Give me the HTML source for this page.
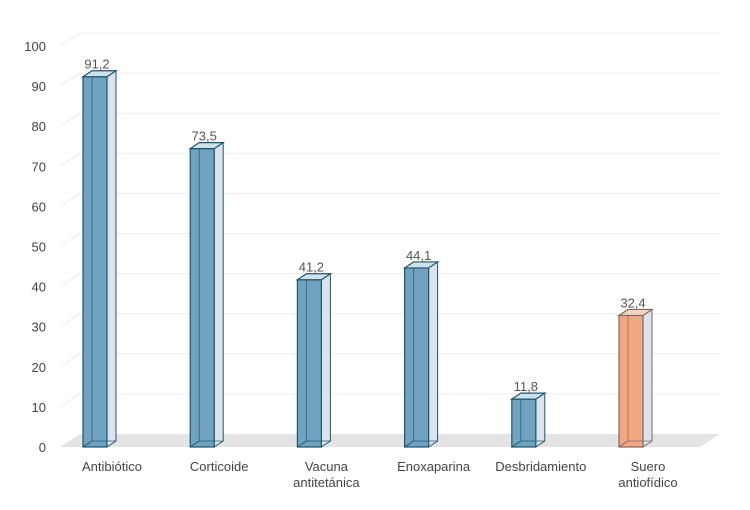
<!DOCTYPE html>
<html><head><meta charset="utf-8"><style>
body{margin:0;background:#fff;}
svg{display:block;font-family:"Liberation Sans",sans-serif;}
</style></head><body>
<svg id="chart" width="750" height="510" viewBox="0 0 750 510"></svg>
<script>
const categories = [["Antibiótico"],["Corticoide"],["Vacuna","antitetánica"],["Enoxaparina"],["Desbridamiento"],["Suero","antiofídico"]];
const values = [91.2, 73.5, 41.2, 44.1, 11.8, 32.4];
const valueLabels = ["91,2","73,5","41,2","44,1","11,8","32,4"];
const highlight = [false,false,false,false,false,true];
const ticks = [0,10,20,30,40,50,60,70,80,90,100];

const NS="http://www.w3.org/2000/svg";
const svg=document.getElementById('chart');
const y0=447, yTop=46, ymax=100;
const y=v=>y0-(v/ymax)*(y0-yTop);
const yb=v=>y0-(v/ymax)*(y0-41);
const x=i=>83+i*107.2;
const DX=20, DY=-13, bw=24, dx=9, dy=-6;
function el(t,a,p){const e=document.createElementNS(NS,t);for(const k in a)e.setAttribute(k,a[k]);(p||svg).appendChild(e);return e;}

const grid=el('g',{});


const floor=el('polygon',{points:`60,${y0} 700,${y0} 720,${y0+DY} 80,${y0+DY}`,fill:'#e4e4e4'},grid);


ticks.forEach(t=>{
  const yy=y(t);
  if(t>0){
    el('line',{x1:60,y1:yy,x2:60+DX,y2:yy+DY,stroke:'#ececec'},grid);
    el('line',{x1:60+DX,y1:yy+DY,x2:720,y2:yy+DY,stroke:'#ececec'},grid);
  }
  const tx=el('text',{x:46,y:yy+5,'text-anchor':'end','font-size':13,fill:'#444'});
  tx.textContent=t;
  
  
});

values.forEach((v,i)=>{
  const g=el('g',{});
  
  
  const x0=x(i), yt=yb(v);
  const front=highlight[i]?'#f2a782':'#6fa3bf';
  const top=highlight[i]?'#f8d3c0':'#cfe1eb';
  const st=highlight[i]?'#7a6a66':'#1f5570';
  el('polygon',{points:`${x0+bw},${yt} ${x0+bw+dx},${yt+dy} ${x0+bw+dx},${y0+dy} ${x0+bw},${y0}`,fill:'#dde3ea',stroke:st,'stroke-width':1},g);
  el('rect',{x:x0,y:yt,width:bw,height:y0-yt,fill:front,stroke:st,'stroke-width':1.2},g);
  el('line',{x1:x0+dx,y1:yt+dy,x2:x0+dx,y2:y0+dy,stroke:st,'stroke-width':1,opacity:0.7},g);
  el('line',{x1:x0,y1:y0,x2:x0+dx,y2:y0+dy,stroke:st,'stroke-width':1},g);
  el('line',{x1:x0+dx,y1:y0+dy,x2:x0+bw+dx,y2:y0+dy,stroke:st,'stroke-width':1,opacity:0.7},g);
  el('polygon',{points:`${x0},${yt} ${x0+dx},${yt+dy} ${x0+bw+dx},${yt+dy} ${x0+bw},${yt}`,fill:top,stroke:st,'stroke-width':1.2},g);
  const lb=el('text',{x:x0+14,y:yt-8,'text-anchor':'middle','font-size':13,fill:'#555'});
  lb.textContent=valueLabels[i];
  
  
  const cx=x0+29;
  categories[i].forEach((line,j)=>{
    const c=el('text',{x:cx,y:471+j*16,'text-anchor':'middle','font-size':13,fill:'#444'});
    c.textContent=line;
    
    
  });
});
</script>
</body></html>
